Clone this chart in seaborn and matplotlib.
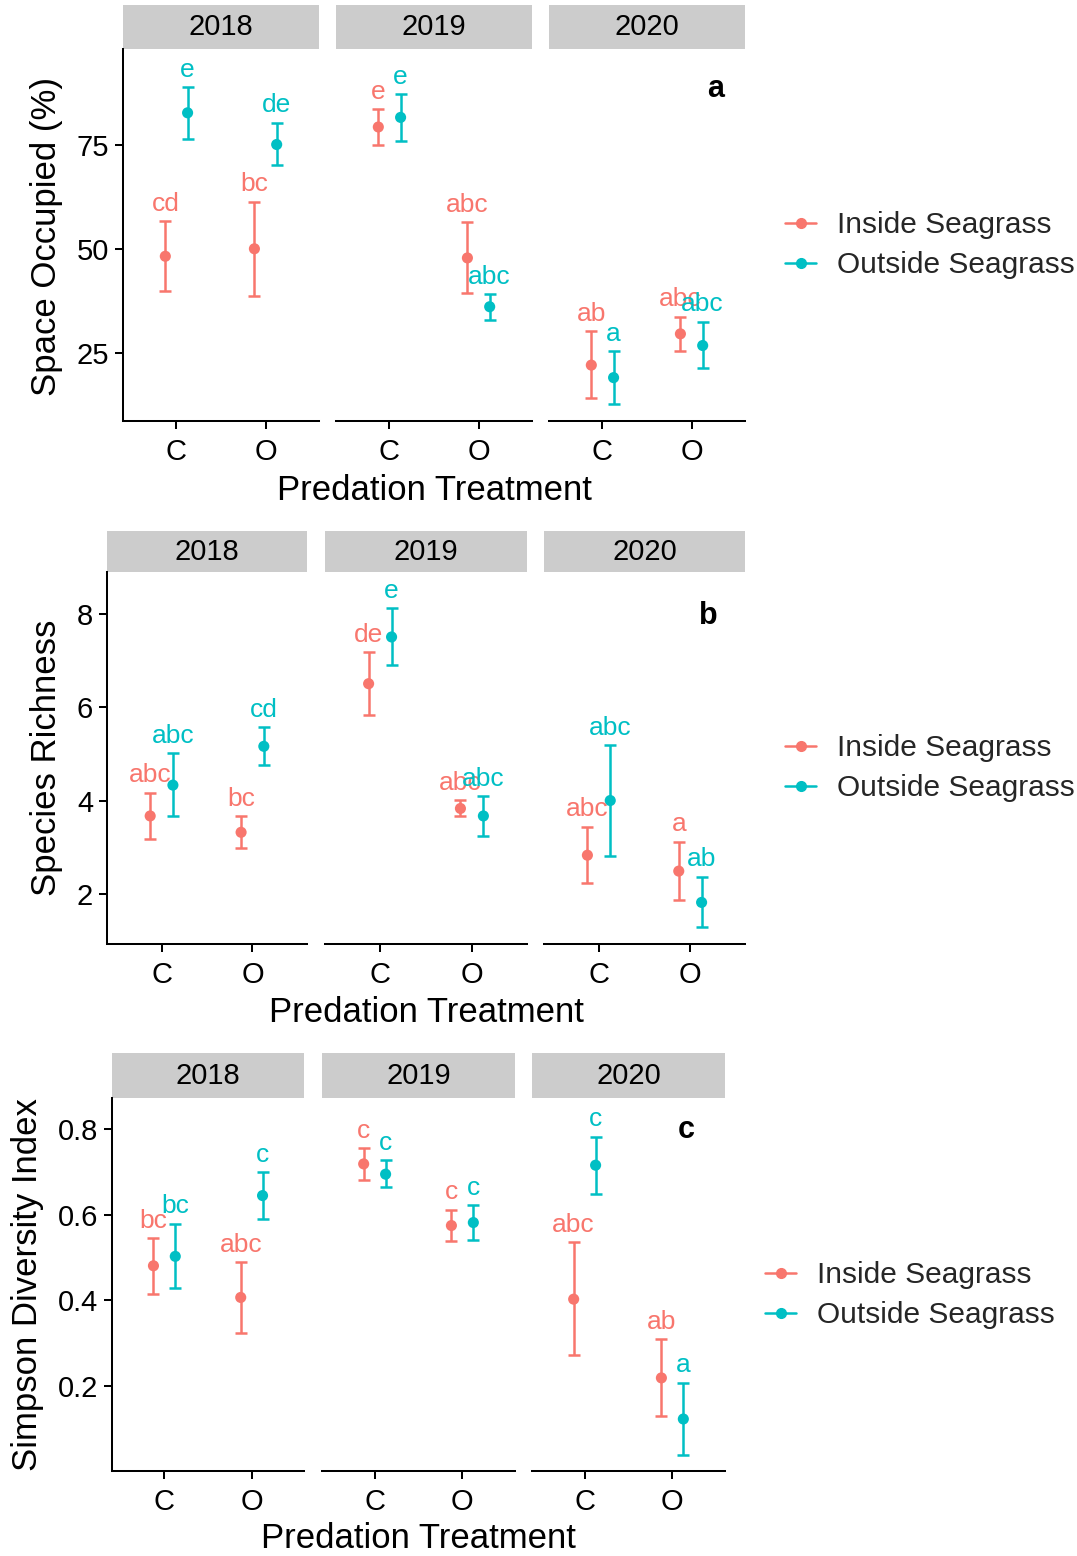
import numpy as np
import pandas as pd
import matplotlib
matplotlib.use("Agg")
import matplotlib.pyplot as plt
import seaborn as sns
from matplotlib.lines import Line2D

# ---------------------------------------------------------------- data
years = ["2018", "2019", "2020"]
treatments = ["C", "O"]
habitats = ["Inside Seagrass", "Outside Seagrass"]

# order of every series: year -> treatment -> habitat
space_mean = [48.2, 82.6, 50.0, 75.0, 79.2, 81.5, 47.8, 36.1, 22.1, 19.1, 29.6, 26.8]
space_lo = [39.9, 76.2, 38.7, 70.0, 74.9, 75.9, 39.5, 32.9, 14.1, 12.7, 25.5, 21.3]
space_hi = [56.6, 88.8, 61.3, 80.2, 83.4, 87.1, 56.4, 39.1, 30.3, 25.5, 33.7, 32.5]
space_letters = ["cd", "e", "bc", "de", "e", "e", "abc", "abc", "ab", "a", "abc", "abc"]

rich_mean = [3.67, 4.33, 3.32, 5.16, 6.50, 7.50, 3.83, 3.67, 2.83, 4.00, 2.49, 1.82]
rich_lo = [3.17, 3.67, 2.99, 4.76, 5.83, 6.89, 3.67, 3.24, 2.23, 2.81, 1.87, 1.29]
rich_hi = [4.17, 5.01, 3.67, 5.57, 7.17, 8.12, 4.01, 4.09, 3.44, 5.18, 3.12, 2.37]
rich_letters = ["abc", "abc", "bc", "cd", "de", "e", "abc", "abc", "abc", "abc", "a", "ab"]

simp_mean = [0.481, 0.503, 0.407, 0.645, 0.719, 0.695, 0.575, 0.582, 0.403, 0.716, 0.219, 0.123]
simp_lo = [0.415, 0.430, 0.325, 0.591, 0.681, 0.666, 0.538, 0.541, 0.273, 0.648, 0.130, 0.039]
simp_hi = [0.546, 0.579, 0.490, 0.700, 0.756, 0.727, 0.612, 0.623, 0.536, 0.783, 0.309, 0.208]
simp_letters = ["bc", "bc", "abc", "c", "c", "c", "c", "c", "abc", "c", "ab", "a"]

palette = {"Inside Seagrass": "#F8766D", "Outside Seagrass": "#00BFC4"}


def build_frame(mean, lo, hi, letters):
    rows = []
    i = 0
    for y in years:
        for t in treatments:
            for h in habitats:
                rows.append(dict(Year=y, Treatment=t, Habitat=h,
                                 mean=mean[i], lo=lo[i], hi=hi[i], letter=letters[i]))
                i += 1
    df = pd.DataFrame(rows)
    dodge = {"Inside Seagrass": -0.125, "Outside Seagrass": 0.125}
    df["xpos"] = df["Treatment"].map({t: k for k, t in enumerate(treatments)}) + df["Habitat"].map(dodge)
    return df


# ---------------------------------------------------------------- layout (pixels)
W, H = 1077, 1556
sns.set_theme(style="white")
plt.rcParams["font.family"] = ["Liberation Sans", "DejaVu Sans"]

fig = plt.figure(figsize=(W / 100, H / 100), dpi=100)


def frac(x0, y0, x1, y1):
    return [x0 / W, 1 - y1 / H, (x1 - x0) / W, (y1 - y0) / H]


panels = [
    dict(df=build_frame(space_mean, space_lo, space_hi, space_letters),
         facets=[(123, 319), (336, 532), (549, 745)], strip=(5, 49), plot=(49, 421),
         ylim=(8.7, 97.9), yticks=[25, 50, 75], yfmt="{:g}",
         ylabel="Space Occupied (%)", ylab_xy=(47, 237), xlab_xy=(434, 491),
         tag="a", tag_xy=(1.27, 88.3), legend_xy=(785, 245)),
    dict(df=build_frame(rich_mean, rich_lo, rich_hi, rich_letters),
         facets=[(107, 307), (325, 527), (544, 745)], strip=(531, 572), plot=(572, 944),
         ylim=(0.93, 8.89), yticks=[2, 4, 6, 8], yfmt="{:g}",
         ylabel="Species Richness", ylab_xy=(47, 758), xlab_xy=(426, 1013),
         tag="b", tag_xy=(1.2, 7.95), legend_xy=(785, 768)),
    dict(df=build_frame(simp_mean, simp_lo, simp_hi, simp_letters),
         facets=[(112, 304), (322, 515), (532, 725)], strip=(1053, 1098), plot=(1098, 1471),
         ylim=(0.0015, 0.873), yticks=[0.2, 0.4, 0.6, 0.8], yfmt="{:.1f}",
         ylabel="Simpson Diversity Index", ylab_xy=(28, 1285), xlab_xy=(418, 1539),
         tag="c", tag_xy=(1.16, 0.798), legend_xy=(765, 1295)),
]

TICK_FS = 21
STRIP_FS = 21
TITLE_FS = 25
LETTER_FS = 19
LEGEND_FS = 21.5
AX_LW = 1.45

for p in panels:
    df = p["df"]
    for k, (yr, (x0, x1)) in enumerate(zip(years, p["facets"])):
        sub = df[df["Year"] == yr]

        # facet strip
        sax = fig.add_axes(frac(x0, p["strip"][0], x1, p["strip"][1]))
        sax.set_facecolor("#CCCCCC")
        sax.set_xticks([])
        sax.set_yticks([])
        for s in sax.spines.values():
            s.set_visible(False)
        sax.text(0.5, 0.5, yr, ha="center", va="center", fontsize=STRIP_FS,
                 color="black", transform=sax.transAxes)

        # panel
        ax = fig.add_axes(frac(x0, p["plot"][0], x1, p["plot"][1]))
        ax.set_facecolor("white")
        for h in habitats:
            hs = sub[sub["Habitat"] == h]
            ax.errorbar(hs["xpos"], hs["mean"],
                        yerr=[hs["mean"] - hs["lo"], hs["hi"] - hs["mean"]],
                        fmt="none", ecolor=palette[h], elinewidth=1.8,
                        capsize=4.3, capthick=1.8, zorder=2)
        sns.scatterplot(data=sub, x="xpos", y="mean", hue="Habitat",
                        hue_order=habitats, palette=palette, s=64,
                        linewidth=0, legend=False, ax=ax, zorder=3)
        for _, r in sub.iterrows():
            ax.annotate(r["letter"], (r["xpos"], r["hi"]), xytext=(0, 7.5),
                        textcoords="offset points", ha="center", va="baseline",
                        fontsize=LETTER_FS, color=palette[r["Habitat"]])

        ax.set_xlim(-0.6, 1.6)
        ax.set_ylim(*p["ylim"])
        ax.set_xticks(range(len(treatments)))
        ax.set_xticklabels(treatments)
        ax.set_xlabel("")
        ax.set_ylabel("")
        ax.spines["top"].set_visible(False)
        ax.spines["right"].set_visible(False)
        ax.spines["bottom"].set_color("black")
        ax.spines["bottom"].set_linewidth(AX_LW)
        ax.tick_params(axis="x", length=6, width=AX_LW, color="black",
                       labelsize=TICK_FS, labelcolor="black", pad=6, bottom=True)
        if k == 0:
            ax.spines["left"].set_color("black")
            ax.spines["left"].set_linewidth(AX_LW)
            ax.set_yticks(p["yticks"])
            ax.set_yticklabels([p["yfmt"].format(v) for v in p["yticks"]])
            ax.tick_params(axis="y", length=6, width=AX_LW, color="black",
                           labelsize=TICK_FS, labelcolor="black", pad=4, left=True)
        else:
            ax.spines["left"].set_visible(False)
            ax.set_yticks([])
        if k == 2:
            ax.text(p["tag_xy"][0], p["tag_xy"][1], p["tag"], ha="center",
                    va="center", fontsize=22, fontweight="bold", color="black")

    # axis titles
    fig.text(p["ylab_xy"][0] / W, 1 - p["ylab_xy"][1] / H, p["ylabel"], rotation=90,
             ha="center", va="center", fontsize=TITLE_FS, color="black")
    fig.text(p["xlab_xy"][0] / W, 1 - p["xlab_xy"][1] / H, "Predation Treatment",
             ha="center", va="center", fontsize=TITLE_FS, color="black")

    # legend
    handles = [Line2D([0], [0], color=palette[h], lw=1.8, marker="o", markersize=7)
               for h in habitats]
    fig.legend(handles, habitats, loc="center left",
               bbox_to_anchor=(p["legend_xy"][0] / W, 1 - p["legend_xy"][1] / H),
               frameon=False, fontsize=LEGEND_FS, handlelength=1.05, handletextpad=0.7,
               labelspacing=0.4, borderpad=0, borderaxespad=0)

fig.savefig("out.png", dpi=100, facecolor="white")
